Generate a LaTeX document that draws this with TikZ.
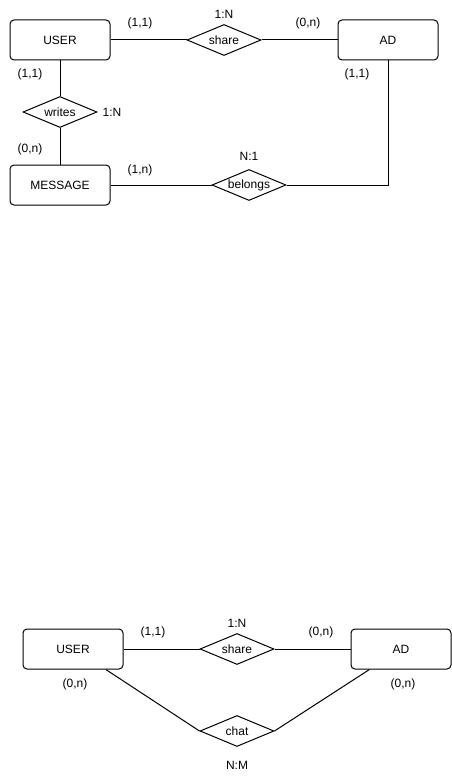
\documentclass[tikz,border=0pt]{standalone}
\usepackage{fontspec}
\setmainfont{Liberation Sans}
\usetikzlibrary{shapes.geometric}

\begin{document}
\begin{tikzpicture}[
  x=1pt,y=-1pt,
  every node/.style={font=\fontsize{12}{14}\selectfont},
  entity/.style={draw,rounded corners=4pt,minimum width=100pt,minimum height=40pt,
                 line width=1pt,inner sep=0pt,text centered},
  relation/.style={draw,diamond,aspect=2.4,minimum width=74pt,minimum height=31pt,
                   line width=1pt,inner sep=0pt},
  card/.style={inner sep=0pt},
  link/.style={line width=1pt}]
\useasboundingbox (0,0) rectangle (452,781);
% first diagram
\node[entity]   (user)    at (60,40)   {USER};
\node[entity]   (ad)      at (388,40)  {AD};
\node[entity]   (msg)     at (60,185)  {MESSAGE};
\node[relation] (share)   at (224,40)  {share};
\node[relation] (writes)  at (60,112)  {writes};
\node[relation] (belongs) at (249,185) {belongs};
\coordinate (corner) at (388,185);
\draw[link] (user)--(share);
\draw[link] (share)--(ad);
\draw[link] (user)--(writes);
\draw[link] (writes)--(msg);
\draw[link] (msg)--(belongs);
\draw[link] (ad.south)--(corner)--(belongs.east);
\node[card] (shareR)   at (224,14)  {1:N};
\node[card] (shareU)   at (140,23)  {(1,1)};
\node[card] (shareA)   at (308,23)  {(0,n)};
\node[card] (writesR)  at (112,112) {1:N};
\node[card] (writesU)  at (30,74)   {(1,1)};
\node[card] (writesM)  at (30,149)  {(0,n)};
\node[card] (belongsR) at (249,156) {N:1};
\node[card] (belongsM) at (140,170) {(1,n)};
\node[card] (belongsA) at (357,74)  {(1,1)};
% second diagram
\node[entity]   (user2)  at (73,649)  {USER};
\node[entity]   (ad2)    at (401,649) {AD};
\node[relation] (share2) at (237,649) {share};
\node[relation] (chat)   at (237,731) {chat};
\draw[link] (user2)--(share2);
\draw[link] (share2)--(ad2);
\draw[link] (user2.-32)--(chat.west);
\draw[link] (ad2.-147)--(chat.east);
\node[card] (share2R) at (237,623) {1:N};
\node[card] (share2U) at (153,632) {(1,1)};
\node[card] (share2A) at (321,632) {(0,n)};
\node[card] (chatU)   at (75,684)  {(0,n)};
\node[card] (chatA)   at (403,684) {(0,n)};
\node[card] (chatR)   at (237,765) {N:M};
\end{tikzpicture}
\end{document}
